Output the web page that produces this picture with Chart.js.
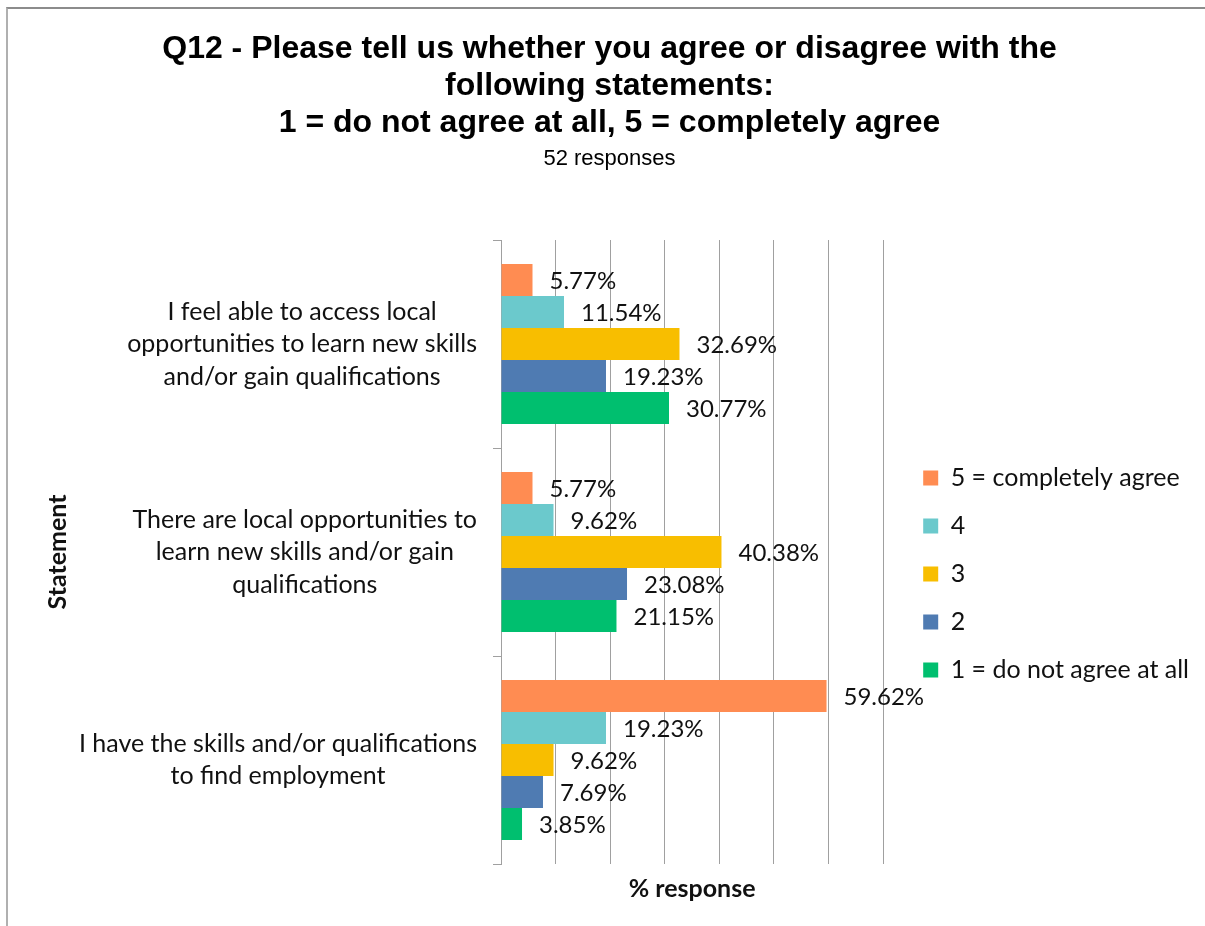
<!DOCTYPE html>
<html>
<head>
<meta charset="utf-8">
<script src="https://cdn.jsdelivr.net/npm/chart.js@4.4.1/dist/chart.umd.min.js"></script>
<style>
  html, body { margin: 0; padding: 0; background: #fff; overflow: hidden; }
  #frame {
    position: absolute; left: 6px; top: 7px; width: 1400px; height: 1100px;
    border-top: 2px solid #8c8c8c; border-left: 2px solid #b0b0b0;
  }
  #chart { position: absolute; left: 0; top: 0; }
</style>
</head>
<body>
<div id="frame"></div>
<canvas id="chart" width="1205" height="926"></canvas>
<script>
// Survey statements (multi-line axis labels)
const statements = [
    ['I feel able to access local', 'opportunities to learn new skills', 'and/or gain qualifications'],
    ['There are local opportunities to', 'learn new skills and/or gain', 'qualifications'],
    ['I have the skills and/or qualifications', 'to find employment']
];

// % of responses for each rating, one value per statement
const rating5 = [5.77, 5.77, 59.62];
const rating4 = [11.54, 9.62, 19.23];
const rating3 = [32.69, 40.38, 9.62];
const rating2 = [19.23, 23.08, 7.69];
const rating1 = [30.77, 21.15, 3.85];

const ratingNames = ['5 = completely agree', '4', '3', '2', '1 = do not agree at all'];
const ratingColors = ['#FF8C52', '#6BC9CC', '#F8BE00', '#4F7BB2', '#00BF6F'];

// x gridline positions (no tick labels shown)
const xTicks = [0, 10, 20, 30, 40, 50, 60, 70];

const titleLines = [
    'Q12 - Please tell us whether you agree or disagree with the',
    'following statements:',
    '1 = do not agree at all, 5 = completely agree'
];
const subtitleText = '52 responses';

const labelFont = 'Lato';

// Writes the percentage just past the end of each bar
const valueLabels = {
    id: 'valueLabels',
    afterDatasetsDraw(chart) {
        const ctx = chart.ctx;
        ctx.save();
        ctx.font = `24px ${labelFont}`;
        ctx.fillStyle = '#111';
        ctx.textAlign = 'left';
        ctx.textBaseline = 'middle';
        chart.data.datasets.forEach((ds, i) => {
            chart.getDatasetMeta(i).data.forEach((bar, j) => {
                ctx.fillText(ds.data[j].toFixed(2) + '%', bar.x + 17, bar.y + 1);
            });
        });
        ctx.restore();
    }
};

// Category labels: each block sits against the axis, its lines centred on each other
const statementLabels = {
    id: 'statementLabels',
    afterDraw(chart) {
        const scale = chart.scales.y;
        const ctx = chart.ctx;
        const lineHeight = 32.5;
        ctx.save();
        ctx.font = `25px ${labelFont}`;
        ctx.fillStyle = '#111';
        ctx.textAlign = 'center';
        ctx.textBaseline = 'middle';
        chart.data.labels.forEach((lines, i) => {
            const blockWidth = Math.max(...lines.map(l => ctx.measureText(l).width));
            const cx = scale.right - 8 - 16 - blockWidth / 2;
            const cy = scale.getPixelForTick(i);
            const top = cy - (lines.length - 1) * lineHeight / 2;
            lines.forEach((line, k) => ctx.fillText(line, cx, top + k * lineHeight));
        });
        ctx.restore();
    }
};

const seriesData = [rating5, rating4, rating3, rating2, rating1];

new Chart(document.getElementById('chart'), {
    type: 'bar',
    data: {
        labels: statements,
        datasets: seriesData.map((values, i) => ({
            label: ratingNames[i],
            data: values,
            backgroundColor: ratingColors[i],
            categoryPercentage: 0.77,
            barPercentage: 1.0
        }))
    },
    options: {
        indexAxis: 'y',
        responsive: false,
        animation: false,
        devicePixelRatio: 1,
        layout: { padding: { left: 20, right: 6, top: 10, bottom: 15 } },
        scales: {
            x: {
                min: xTicks[0],
                max: xTicks[xTicks.length - 1],
                ticks: { display: false, stepSize: xTicks[1] - xTicks[0] },
                grid: { color: '#a0a0a0', drawTicks: false },
                border: { display: false },
                title: {
                    display: true,
                    text: '% response',
                    color: '#111',
                    font: { family: labelFont, size: 25, weight: 'bold' },
                    padding: { top: 10, bottom: 7 }
                }
            },
            y: {
                grid: { offset: true, drawOnChartArea: false, tickLength: 8, color: '#a0a0a0' },
                border: { color: '#a0a0a0' },
                ticks: { display: false },
                title: {
                    display: true,
                    text: 'Statement',
                    color: '#111',
                    font: { family: labelFont, size: 25, weight: 'bold' },
                    padding: { top: 23, bottom: 0 }
                },
                afterFit(scale) { scale.width = 481; }
            },
            // empty axis that keeps a gap between the plot and the legend
            y2: {
                axis: 'y',
                type: 'category',
                position: 'right',
                grid: { display: false },
                ticks: { display: false },
                border: { display: false },
                afterFit(scale) { scale.width = 17; }
            }
        },
        plugins: {
            title: {
                display: true,
                text: titleLines,
                color: '#000',
                font: { family: 'Liberation Sans', size: 32, weight: 'bold', lineHeight: 1.17 },
                padding: { top: 20, bottom: 0 }
            },
            subtitle: {
                display: true,
                text: subtitleText,
                color: '#000',
                font: { family: 'Liberation Sans', size: 22 },
                padding: { top: 3.5, bottom: 67.8 }
            },
            legend: {
                position: 'right',
                fullSize: false,
                maxWidth: 400,
                title: { display: true, text: '', font: { size: 10 }, padding: 16 },
                labels: {
                    boxWidth: 15,
                    boxHeight: 15,
                    padding: 23,
                    color: '#111',
                    font: { family: labelFont, size: 25 }
                }
            },
            tooltip: { enabled: false }
        }
    },
    plugins: [valueLabels, statementLabels]
});
</script>
</body>
</html>
